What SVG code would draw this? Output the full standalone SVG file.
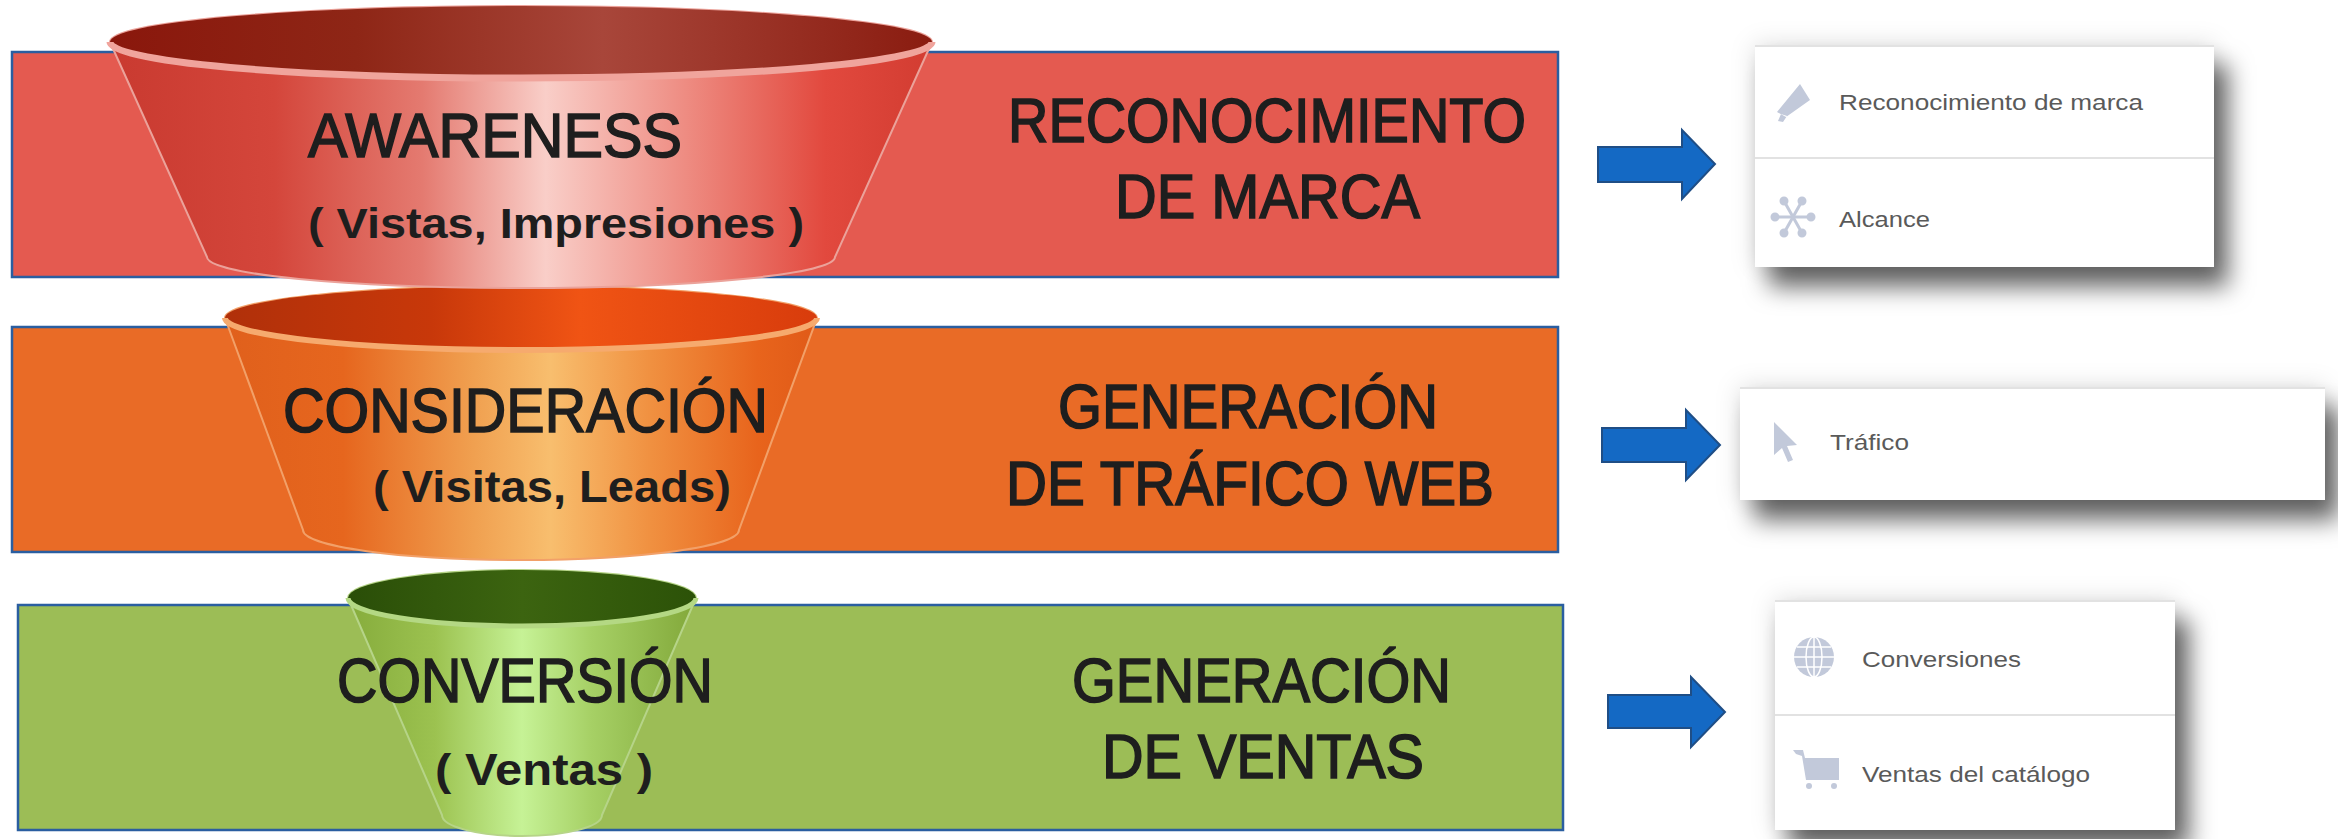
<svg xmlns="http://www.w3.org/2000/svg" width="2338" height="839" viewBox="0 0 2338 839">
<style>
.bar{stroke:#2A5EA0;stroke-width:2.5}
.big{font-family:"Liberation Sans",Arial,sans-serif;font-size:63px;fill:#1e1e1e;stroke:#1e1e1e;stroke-width:1.6}
.sub{font-family:"Liberation Sans",Arial,sans-serif;font-weight:bold;fill:#1e1e1e}
.pt{font-family:"Liberation Sans",Arial,sans-serif;font-size:22px;fill:#5a5a5a}
.card{fill:#ffffff}
.div{stroke:#e2e2e2;stroke-width:2}
.ico{fill:#c2c9da}
.arrow{fill:#1469C4;stroke:#1F4E86;stroke-width:2}
</style>
<defs>
<linearGradient id="b1" x1="110" y1="0" x2="932" y2="0" gradientUnits="userSpaceOnUse">
<stop offset="0" stop-color="#C93A30"/><stop offset="0.2" stop-color="#D4463B"/><stop offset="0.38" stop-color="#E47A70"/><stop offset="0.53" stop-color="#F9CEC8"/><stop offset="0.7" stop-color="#EE8C82"/><stop offset="0.87" stop-color="#E2493E"/><stop offset="1" stop-color="#D23C31"/>
</linearGradient>
<linearGradient id="i1" x1="110" y1="0" x2="932" y2="0" gradientUnits="userSpaceOnUse">
<stop offset="0" stop-color="#8A170C"/><stop offset="0.3" stop-color="#8E2616"/><stop offset="0.6" stop-color="#A8463A"/><stop offset="1" stop-color="#8A1C10"/>
</linearGradient>
<linearGradient id="b2" x1="225" y1="0" x2="817" y2="0" gradientUnits="userSpaceOnUse">
<stop offset="0" stop-color="#E0601C"/><stop offset="0.2" stop-color="#E6661E"/><stop offset="0.42" stop-color="#F0A050"/><stop offset="0.55" stop-color="#F8BE6E"/><stop offset="0.72" stop-color="#F09040"/><stop offset="0.9" stop-color="#E8641C"/><stop offset="1" stop-color="#E05A18"/>
</linearGradient>
<linearGradient id="i2" x1="225" y1="0" x2="817" y2="0" gradientUnits="userSpaceOnUse">
<stop offset="0" stop-color="#B0300A"/><stop offset="0.35" stop-color="#C8380A"/><stop offset="0.6" stop-color="#F05414"/><stop offset="1" stop-color="#D83C0C"/>
</linearGradient>
<linearGradient id="b3" x1="348" y1="0" x2="696" y2="0" gradientUnits="userSpaceOnUse">
<stop offset="0" stop-color="#86AC3C"/><stop offset="0.25" stop-color="#9CC250"/><stop offset="0.5" stop-color="#C6F296"/><stop offset="0.7" stop-color="#A6D065"/><stop offset="1" stop-color="#82A83A"/>
</linearGradient>
<linearGradient id="i3" x1="348" y1="0" x2="696" y2="0" gradientUnits="userSpaceOnUse">
<stop offset="0" stop-color="#2A4E08"/><stop offset="0.5" stop-color="#3C6410"/><stop offset="1" stop-color="#2C5208"/>
</linearGradient>
<filter id="sh" x="-15%" y="-30%" width="140%" height="180%">
<feGaussianBlur in="SourceAlpha" stdDeviation="12" result="blur"/>
<feOffset in="blur" dx="14" dy="20" result="off"/>
<feFlood flood-color="#000" flood-opacity="0.6"/>
<feComposite in2="off" operator="in" result="s1"/>
<feFlood flood-color="#000" flood-opacity="0.14"/>
<feComposite in2="blur" operator="in" result="s2"/>
<feMerge><feMergeNode in="s2"/><feMergeNode in="s1"/><feMergeNode in="SourceGraphic"/></feMerge>
</filter>
</defs>
<rect width="2338" height="839" fill="#ffffff"/>

<g id="stage-conversion">
<rect class="bar" x="18" y="605" width="1545" height="225" fill="#9CBD56"/>
<path d="M348,598 L442,815 A80 21 0 0 0 602,815 L696,598 A174 28 0 0 0 348,598 Z" fill="url(#b3)" stroke="#B6D488" stroke-width="2"/>
<ellipse cx="522" cy="598" rx="174" ry="28" fill="url(#i3)"/>
<path d="M348,598 A174 28 0 0 0 696,598" fill="none" stroke="#B4D884" stroke-width="5"/>
<text class="big" x="337" y="702" textLength="376" lengthAdjust="spacingAndGlyphs">CONVERSIÓN</text>
<text class="sub" x="435" y="785" font-size="45" textLength="218" lengthAdjust="spacingAndGlyphs">( Ventas )</text>
<text class="big" x="1072" y="702" textLength="379" lengthAdjust="spacingAndGlyphs">GENERACIÓN</text>
<text class="big" x="1102" y="778" textLength="322" lengthAdjust="spacingAndGlyphs">DE VENTAS</text>
</g>

<g id="stage-consideracion">
<rect class="bar" x="12" y="327" width="1546" height="225" fill="#E96B26"/>
<path d="M225,318 L303,530 A218 30 0 0 0 739,530 L817,318 A296 32 0 0 0 225,318 Z" fill="url(#b2)" stroke="#F2A068" stroke-width="2"/>
<ellipse cx="521" cy="318" rx="296" ry="32" fill="url(#i2)"/>
<path d="M225,318 A296 32 0 0 0 817,318" fill="none" stroke="#F6AA6E" stroke-width="6"/>
<text class="big" x="283" y="432" font-size="64" textLength="485" lengthAdjust="spacingAndGlyphs">CONSIDERACIÓN</text>
<text class="sub" x="373" y="502" font-size="44" textLength="358" lengthAdjust="spacingAndGlyphs">( Visitas, Leads)</text>
<text class="big" x="1058" y="428" textLength="380" lengthAdjust="spacingAndGlyphs">GENERACIÓN</text>
<text class="big" x="1006" y="505" textLength="488" lengthAdjust="spacingAndGlyphs">DE TRÁFICO WEB</text>
</g>

<g id="stage-awareness">
<rect class="bar" x="12" y="52" width="1546" height="225" fill="#E45A50"/>
<path d="M110,42 L207,257 A314 31 0 0 0 835,257 L932,42 A411 36 0 0 0 110,42 Z" fill="url(#b1)" stroke="#EBA29A" stroke-width="2"/>
<ellipse cx="521" cy="42" rx="411" ry="36" fill="url(#i1)"/>
<path d="M110,42 A411 36 0 0 0 932,42" fill="none" stroke="#F0A49C" stroke-width="7"/>
<text class="big" x="308" y="157" textLength="374" lengthAdjust="spacingAndGlyphs">AWARENESS</text>
<text class="sub" x="308" y="238" font-size="42" textLength="496" lengthAdjust="spacingAndGlyphs">( Vistas, Impresiones )</text>
<text class="big" x="1008" y="142" textLength="518" lengthAdjust="spacingAndGlyphs">RECONOCIMIENTO</text>
<text class="big" x="1115" y="218" textLength="305" lengthAdjust="spacingAndGlyphs">DE MARCA</text>
</g>

<g id="connectors">
<polygon class="arrow" points="1598,147 1682,147 1682,130 1715,164 1682,199 1682,182 1598,182"/>
<polygon class="arrow" points="1602,428 1686,428 1686,410 1720,445 1686,480 1686,462 1602,462"/>
<polygon class="arrow" points="1608,695 1691,695 1691,677 1725,712 1691,747 1691,728 1608,728"/>
</g>

<g id="panel-awareness">
<rect class="card" x="1755" y="45" width="459" height="222" filter="url(#sh)"/>
<line class="div" x1="1755" y1="46" x2="2214" y2="46"/>
<line class="div" x1="1755" y1="158" x2="2214" y2="158"/>
<path class="ico" d="M1777,112 L1800,84 L1810,100 L1786,117 Z M1781,114 L1778,121 L1783,122 L1787,116 Z"/>
<text class="pt" x="1839" y="110" textLength="304" lengthAdjust="spacingAndGlyphs">Reconocimiento de marca</text>
<g stroke="#c2c9da" stroke-width="3" fill="#c2c9da">
<line x1="1784" y1="201" x2="1802" y2="233"/>
<line x1="1802" y1="201" x2="1784" y2="233"/>
<line x1="1775" y1="217" x2="1811" y2="217"/>
<circle cx="1784" cy="201" r="3"/><circle cx="1802" cy="201" r="3"/><circle cx="1784" cy="233" r="3"/><circle cx="1802" cy="233" r="3"/><circle cx="1775" cy="217" r="3"/><circle cx="1811" cy="217" r="3"/>
</g>
<text class="pt" x="1839" y="227" textLength="91" lengthAdjust="spacingAndGlyphs">Alcance</text>
</g>

<g id="panel-consideracion">
<rect class="card" x="1740" y="387" width="585" height="113" filter="url(#sh)"/>
<line class="div" x1="1740" y1="388" x2="2325" y2="388"/>
<polygon class="ico" points="1774,422 1774,455 1782,448 1788,462 1793,460 1787,446 1797,445"/>
<text class="pt" x="1830" y="450" textLength="79" lengthAdjust="spacingAndGlyphs">Tráfico</text>
</g>

<g id="panel-conversion">
<rect class="card" x="1775" y="600" width="400" height="230" filter="url(#sh)"/>
<line class="div" x1="1775" y1="601" x2="2175" y2="601"/>
<line class="div" x1="1775" y1="715" x2="2175" y2="715"/>
<circle class="ico" cx="1814" cy="657" r="20"/>
<g stroke="#ffffff" stroke-width="1.5" fill="none">
<ellipse cx="1814" cy="657" rx="8" ry="20"/>
<line x1="1814" y1="637" x2="1814" y2="677"/>
<line x1="1794" y1="657" x2="1834" y2="657"/>
<line x1="1797" y1="647" x2="1831" y2="647"/>
<line x1="1797" y1="667" x2="1831" y2="667"/>
</g>
<text class="pt" x="1862" y="667" textLength="159" lengthAdjust="spacingAndGlyphs">Conversiones</text>
<path class="ico" d="M1793,750 L1803,750 L1805,758 L1839,758 L1839,780 L1806,780 L1802,756 L1796,754 Z"/>
<circle class="ico" cx="1809" cy="786" r="3"/><circle class="ico" cx="1834" cy="786" r="3"/>
<text class="pt" x="1862" y="782" textLength="228" lengthAdjust="spacingAndGlyphs">Ventas del catálogo</text>
</g>
</svg>
